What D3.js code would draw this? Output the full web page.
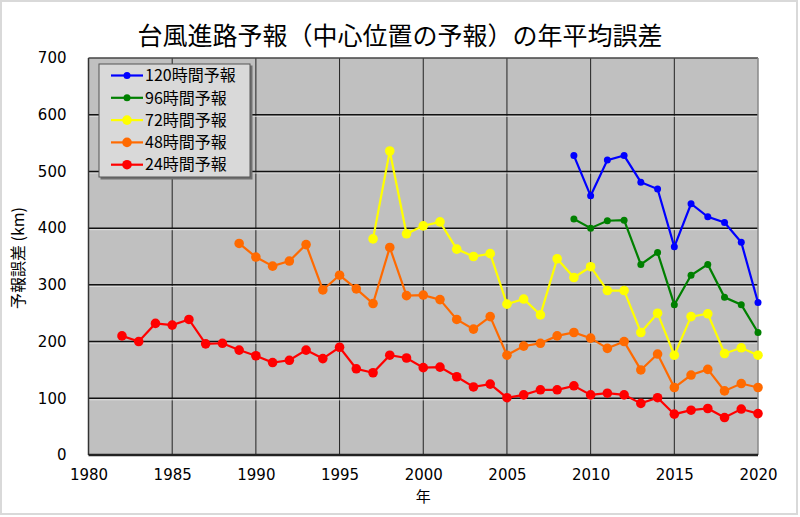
<!DOCTYPE html>
<html>
<head>
<meta charset="utf-8">
<script src="https://cdn.jsdelivr.net/npm/d3@7"></script>
<style>
  body { margin: 0; background: #fff; }
  svg { display: block; }
</style>
</head>
<body>
<svg id="chart" width="800" height="517"></svg>
<script>
// 年平均誤差 (km)
const years24 = d3.range(1982, 2021);
const err24 = [210, 200, 232, 229, 239, 196, 197, 185, 175, 163, 167, 185,
  170, 190, 152, 145, 176, 171, 154, 155, 138, 120, 125, 101, 106, 115,
  115, 122, 106, 109, 106, 91, 101, 72, 79, 82, 66, 81, 73];

const years48 = d3.range(1989, 2021);
const err48 = [373, 349, 333, 342, 371, 291, 317, 293, 267, 366, 281, 282,
  274, 239, 222, 244, 176, 192, 197, 210, 216, 206, 188, 200, 150, 178,
  119, 141, 151, 113, 126, 119];

const years72 = d3.range(1997, 2021);
const err72 = [381, 536, 390, 404, 411, 363, 350, 355, 266, 275, 247, 346,
  313, 332, 290, 290, 216, 250, 176, 244, 249, 179, 189, 176];

const years96 = d3.range(2009, 2021);
const err96 = [416, 400, 413, 414, 336, 357, 265, 317, 336, 278, 265, 216];

const years120 = d3.range(2009, 2021);
const err120 = [528, 457, 520, 528, 481, 469, 367, 443, 420, 410, 375, 269];

const xTicks = [1980, 1985, 1990, 1995, 2000, 2005, 2010, 2015, 2020];
const yTicks = [0, 100, 200, 300, 400, 500, 600, 700];

const series = [
  { name: "120時間予報", years: years120, values: err120, color: "#0000ff", r: 3.5 },
  { name: "96時間予報", years: years96, values: err96, color: "#008000", r: 3.5 },
  { name: "72時間予報", years: years72, values: err72, color: "#ffff00", r: 4.8 },
  { name: "48時間予報", years: years48, values: err48, color: "#ff6a00", r: 4.8 },
  { name: "24時間予報", years: years24, values: err24, color: "#ff0000", r: 4.8 }
];

const svg = d3.select("#chart");
const width = 800, height = 517;
const margin = { top: 58, right: 42, bottom: 62, left: 88.5 };
const plotW = width - margin.left - margin.right;
const plotH = height - margin.top - margin.bottom;
const numFont = "Verdana, 'DejaVu Sans', sans-serif";
const jpFont = "'Noto Sans CJK JP', sans-serif";

// outer frame
svg.append("rect")
  .attr("x", 1).attr("y", 1)
  .attr("width", width - 4).attr("height", height - 4)
  .attr("fill", "#fff")
  .attr("stroke", "#d9d9d9")
  .attr("stroke-width", 2);

const x = d3.scaleLinear().domain([1980, 2020]).range([0, plotW]);
const y = d3.scaleLinear().domain([0, 700]).range([plotH, 0]);

const g = svg.append("g")
  .attr("transform", `translate(${margin.left},${margin.top})`);

g.append("rect")
  .attr("width", plotW).attr("height", plotH)
  .attr("fill", "#c0c0c0");

// grid
g.selectAll(".vgrid")
  .data(xTicks.slice(1, -1))
  .enter().append("line")
  .attr("x1", d => x(d)).attr("x2", d => x(d))
  .attr("y1", 0).attr("y2", plotH)
  .attr("stroke", "#222").attr("stroke-width", 1);

g.selectAll(".hgrid-shadow")
  .data(yTicks.slice(1, -1))
  .enter().append("line")
  .attr("x1", 0).attr("x2", plotW)
  .attr("y1", d => y(d) + 1.5).attr("y2", d => y(d) + 1.5)
  .attr("stroke", "#e0e0e0").attr("stroke-width", 1);

g.selectAll(".hgrid")
  .data(yTicks.slice(1, -1))
  .enter().append("line")
  .attr("x1", 0).attr("x2", plotW)
  .attr("y1", d => y(d)).attr("y2", d => y(d))
  .attr("stroke", "#111").attr("stroke-width", 1.5);

// plot frame
g.append("line").attr("x1", 0).attr("x2", plotW).attr("y1", 0).attr("y2", 0)
  .attr("stroke", "#444").attr("stroke-width", 1.5);
g.append("line").attr("x1", 0).attr("x2", 0).attr("y1", 0).attr("y2", plotH)
  .attr("stroke", "#333").attr("stroke-width", 1.5);
g.append("line").attr("x1", plotW).attr("x2", plotW).attr("y1", 0).attr("y2", plotH)
  .attr("stroke", "#888").attr("stroke-width", 1.5);
g.append("line").attr("x1", 0).attr("x2", plotW).attr("y1", plotH).attr("y2", plotH)
  .attr("stroke", "#222").attr("stroke-width", 2.5);

// axes
const xAxis = g.append("g")
  .attr("transform", `translate(0,${plotH})`)
  .call(d3.axisBottom(x).tickValues(xTicks).tickFormat(d3.format("d")).tickSize(0).tickPadding(14));
const yAxis = g.append("g")
  .call(d3.axisLeft(y).tickValues(yTicks).tickSize(0).tickPadding(22));
[xAxis, yAxis].forEach(a => {
  a.select(".domain").remove();
  a.selectAll("text")
    .attr("fill", "#000")
    .style("font-family", numFont)
    .style("font-size", "15px");
});

// lines and markers
const line = d3.line()
  .x(d => x(d.year))
  .y(d => y(d.value));

series.forEach(s => {
  const pts = s.years.map((yr, i) => ({ year: yr, value: s.values[i] }));
  g.append("path")
    .datum(pts)
    .attr("fill", "none")
    .attr("stroke", s.color)
    .attr("stroke-width", 2.2)
    .attr("d", line);
  g.selectAll(null)
    .data(pts)
    .enter().append("circle")
    .attr("cx", d => x(d.year))
    .attr("cy", d => y(d.value))
    .attr("r", s.r)
    .attr("fill", s.color);
});

// legend
const legend = svg.append("g").attr("transform", "translate(99,64)");
legend.append("rect")
  .attr("x", 1.5).attr("y", 1.5)
  .attr("width", 152).attr("height", 114)
  .attr("fill", "#707070");
legend.append("rect")
  .attr("width", 151).attr("height", 113)
  .attr("fill", "#d9d9d9")
  .attr("stroke", "#555").attr("stroke-width", 1);

const items = legend.selectAll(".item")
  .data(series)
  .enter().append("g")
  .attr("transform", (d, i) => `translate(0,${11.5 + i * 22.3})`);
items.append("line")
  .attr("x1", 12).attr("x2", 44)
  .attr("stroke", d => d.color).attr("stroke-width", 2.2);
items.append("circle")
  .attr("cx", 28).attr("r", d => d.r)
  .attr("fill", d => d.color);
items.append("text")
  .attr("x", 46).attr("dy", "0.36em")
  .style("font-family", jpFont)
  .style("font-size", "16px")
  .text(d => d.name);

// title and labels
svg.append("text")
  .attr("x", width / 2).attr("y", 45)
  .attr("text-anchor", "middle")
  .style("font-family", jpFont)
  .style("font-size", "25px")
  .text("台風進路予報（中心位置の予報）の年平均誤差");

svg.append("text")
  .attr("x", margin.left + plotW / 2).attr("y", 502)
  .attr("text-anchor", "middle")
  .style("font-family", jpFont)
  .style("font-size", "15px")
  .text("年");

svg.append("text")
  .attr("transform", "translate(24,258) rotate(-90)")
  .attr("text-anchor", "middle")
  .style("font-family", jpFont)
  .style("font-size", "16px")
  .text("予報誤差 (km)");
</script>
</body>
</html>
